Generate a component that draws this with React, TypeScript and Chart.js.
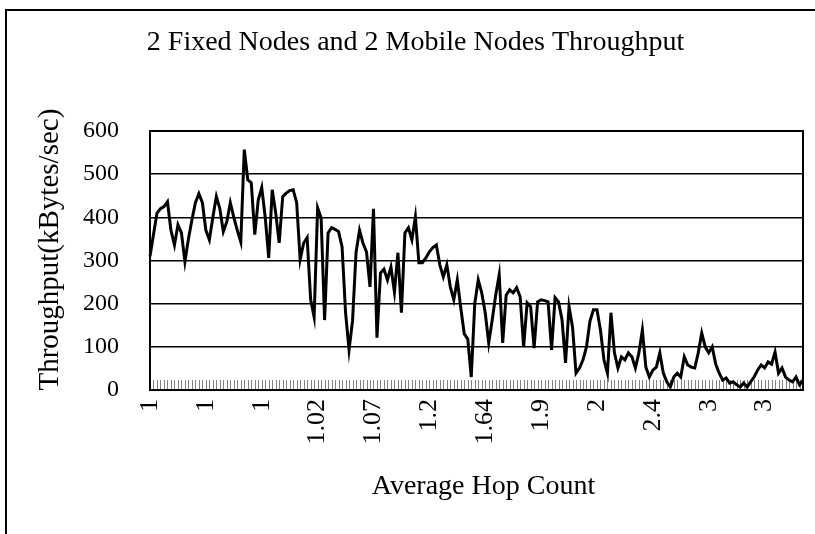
import React, { useEffect, useRef } from "react";
import { Chart, registerables } from "chart.js";

Chart.register(...registerables);

const TITLE = "2 Fixed Nodes and 2 Mobile Nodes Throughput";
const X_TITLE = "\u00a0\u00a0Average Hop Count";
const Y_TITLE = "\u00a0\u00a0\u00a0Throughput(kBytes/sec)";

// Hop-count labels shown every LABEL_EVERY samples
const TICK_LABELS = ["1", "1", "1", "1.02", "1.07", "1.2", "1.64", "1.9", "2", "2.4", "3", "3"];
const LABEL_EVERY = 16;

// Throughput samples (kBytes/sec)
const THROUGHPUT = [
  310, 360, 410, 420, 425, 436, 370, 336, 383, 364,
  297, 350, 394, 434, 455, 434, 370, 348, 400, 448,
  420, 367, 390, 434, 400, 370, 343, 557, 487, 480,
  360, 440, 469, 400, 306, 464, 410, 341, 448, 456,
  462, 464, 434, 302, 340, 353, 210, 169, 422, 399,
  162, 364, 376, 372, 367, 332, 180, 93, 160, 318,
  370, 340, 320, 239, 420, 121, 271, 280, 255, 285,
  227, 318, 179, 364, 376, 348, 401, 295, 295, 306,
  320, 330, 336, 290, 262, 290, 239, 209, 255, 190,
  130, 118, 30, 200, 255, 225, 179, 109, 162, 220,
  267, 109, 220, 232, 225, 237, 216, 100, 202, 193,
  97, 204, 209, 207, 204, 93, 214, 204, 162, 63,
  193, 146, 39, 51, 70, 100, 160, 186, 186, 139,
  70, 39, 179, 86, 51, 77, 70, 86, 77, 51,
  86, 139, 53, 30, 46, 53, 86, 39, 19, 7,
  30, 39, 30, 77, 58, 53, 51, 86, 132, 100,
  86, 100, 60, 39, 23, 28, 16, 19, 12, 7,
  16, 7, 19, 30, 46, 58, 51, 65, 60, 88,
  39, 51, 30, 23, 19, 30, 12, 23,
];

const Y_MIN = 0;
const Y_MAX = 600;
const Y_STEP = 100;

const FONT = "'Liberation Serif', 'Times New Roman', serif";

export default function App() {
  const ref = useRef<HTMLCanvasElement>(null);

  useEffect(() => {
    document.body.style.margin = "0";
    const categories = THROUGHPUT.map((_, i) =>
      i % LABEL_EVERY === 0 ? TICK_LABELS[i / LABEL_EVERY] ?? "" : ""
    );

    const decor = {
      id: "decor",
      beforeDraw(chart: any) {
        const { ctx, width, height } = chart;
        ctx.save();
        ctx.fillStyle = "#fff";
        ctx.fillRect(0, 0, width, height);
        ctx.strokeStyle = "#000";
        ctx.lineWidth = 2;
        ctx.beginPath();
        ctx.moveTo(6, height);
        ctx.lineTo(6, 10);
        ctx.lineTo(width, 10);
        ctx.stroke();
        ctx.restore();
      },
      beforeDatasetsDraw(chart: any) {
        const { ctx, chartArea } = chart;
        const xs = chart.scales.x;
        ctx.save();
        ctx.strokeStyle = "#808080";
        ctx.lineWidth = 1;
        ctx.beginPath();
        for (let i = 0; i < THROUGHPUT.length; i++) {
          const x = Math.round(xs.getPixelForValue(i)) + 0.5;
          ctx.moveTo(x, chartArea.bottom - 10);
          ctx.lineTo(x, chartArea.bottom);
        }
        ctx.stroke();
        ctx.restore();
      },
      afterDatasetsDraw(chart: any) {
        const { ctx, chartArea } = chart;
        ctx.save();
        ctx.strokeStyle = "#000";
        ctx.lineWidth = 2;
        ctx.strokeRect(
          chartArea.left,
          chartArea.top,
          chartArea.right - chartArea.left,
          chartArea.bottom - chartArea.top
        );
        ctx.restore();
      },
    };

    const chart = new Chart(ref.current as HTMLCanvasElement, {
      type: "line",
      data: {
        labels: categories,
        datasets: [
          {
            data: THROUGHPUT,
            borderColor: "#000",
            borderWidth: 3,
            pointRadius: 0,
            tension: 0,
            fill: false,
          },
        ],
      },
      options: {
        responsive: false,
        devicePixelRatio: 1,
        animation: false,
        layout: { padding: { top: 0, left: 16, right: 0, bottom: 0 } },
        plugins: {
          legend: { display: false },
          tooltip: { enabled: false },
          title: {
            display: true,
            text: TITLE,
            color: "#000",
            font: { family: FONT, size: 28, weight: "normal" },
            padding: { top: 26, bottom: 71.4 },
          },
        },
        scales: {
          x: {
            type: "category",
            offset: false,
            grid: { display: false, drawTicks: false },
            border: { display: true, color: "#000", width: 2 },
            ticks: {
              autoSkip: false,
              minRotation: 90,
              maxRotation: 90,
              padding: 9,
              color: "#000",
              font: { family: FONT, size: 26 },
            },
            title: {
              display: true,
              text: X_TITLE,
              color: "#000",
              font: { family: FONT, size: 28 },
              padding: { top: 0, bottom: 31 },
            },
            afterFit: (s: any) => {
              s.height = 144;
              s.paddingLeft = 0;
              s.paddingRight = 12;
            },
          },
          y: {
            min: Y_MIN,
            max: Y_MAX,
            grid: { color: "#000", lineWidth: 1.5, drawTicks: false },
            border: { display: true, color: "#000", width: 2 },
            ticks: {
              stepSize: Y_STEP,
              padding: 31,
              color: "#000",
              font: { family: FONT, size: 24 },
            },
            title: {
              display: true,
              text: Y_TITLE,
              color: "#000",
              font: { family: FONT, size: 29 },
              padding: { top: 17, bottom: 0 },
            },
            afterFit: (s: any) => {
              s.width = 134;
            },
          },
        },
      },
      plugins: [decor],
    });

    return () => chart.destroy();
  }, []);

  return (
    <div style={{ position: "fixed", left: 0, top: 0, width: 815, height: 534, background: "#fff" }}>
      <canvas ref={ref} width={815} height={534} style={{ display: "block", width: 815, height: 534 }} />
    </div>
  );
}
